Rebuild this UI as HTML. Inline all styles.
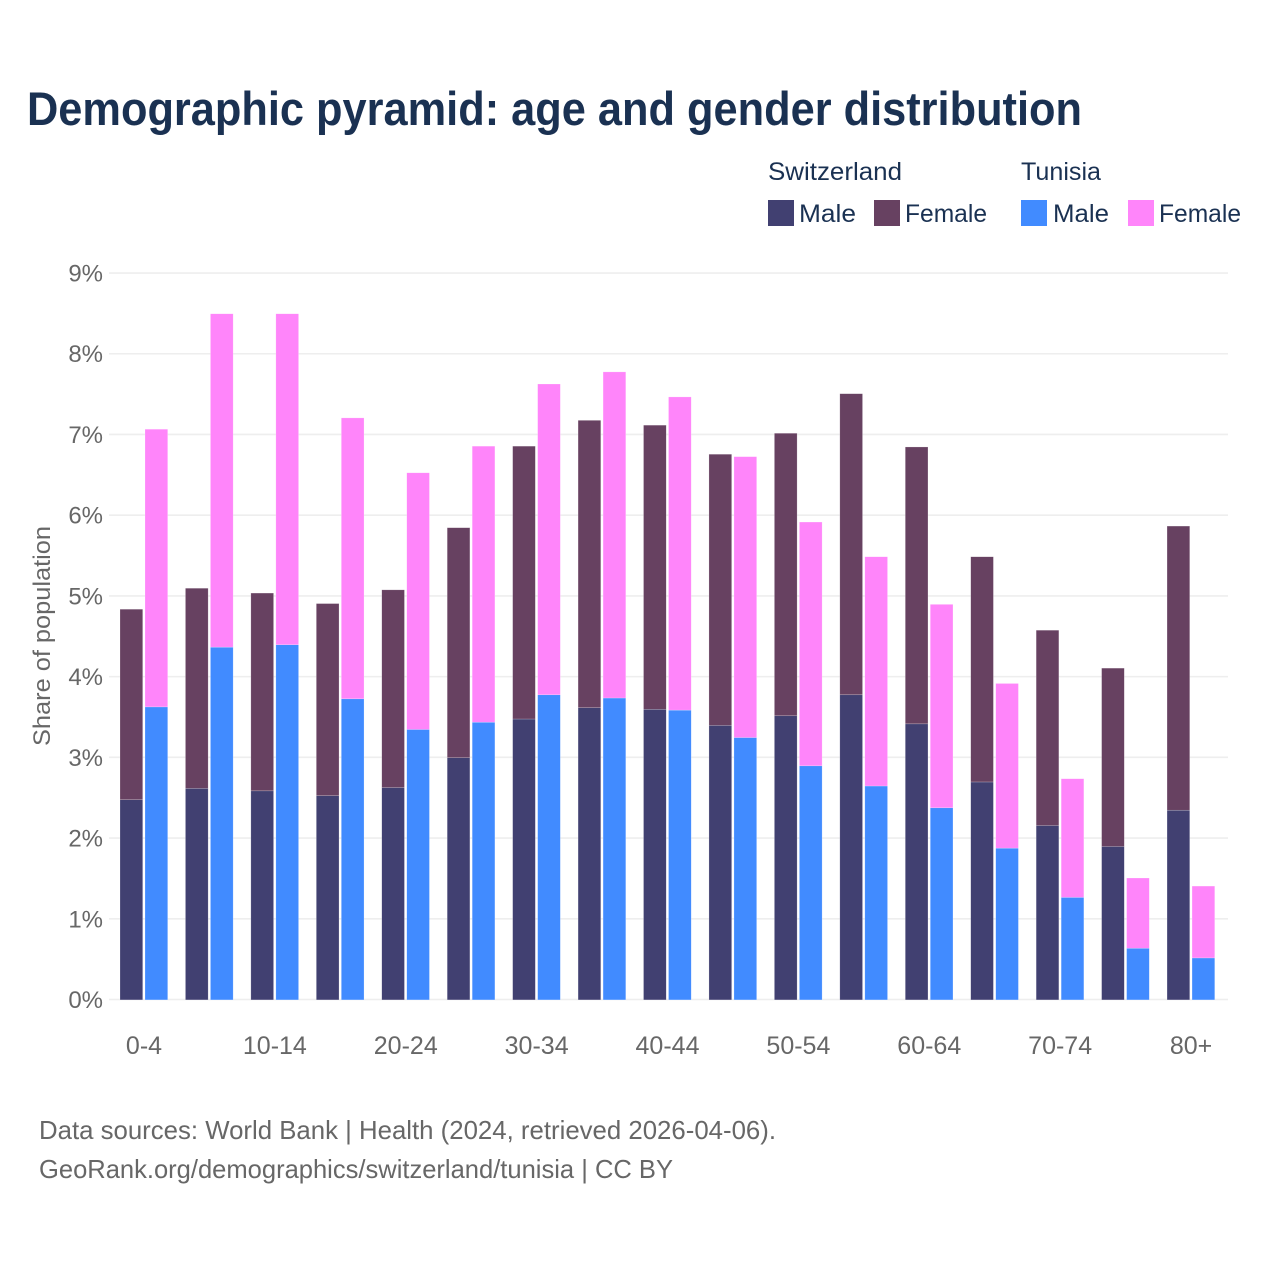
<!DOCTYPE html>
<html lang="en">
<head>
<meta charset="utf-8">
<title>Demographic pyramid: age and gender distribution</title>
<style>
html,body{margin:0;padding:0;background:#fff;width:1280px;height:1280px;overflow:hidden}
svg{display:block}
text{font-family:"Liberation Sans",sans-serif}
</style>
</head>
<body>
<svg id="chart" xmlns="http://www.w3.org/2000/svg" width="1280" height="1280" viewBox="0 0 1280 1280">
  <rect x="0" y="0" width="1280" height="1280" fill="#fff"/>
  <text x="27" y="125" font-size="47" font-weight="700" fill="#1a3152" textLength="1055" lengthAdjust="spacingAndGlyphs">Demographic pyramid: age and gender distribution</text>

  <g font-size="25" fill="#1a3152">
    <text x="768" y="180" textLength="134" lengthAdjust="spacingAndGlyphs">Switzerland</text>
    <text x="1021" y="180" textLength="80" lengthAdjust="spacingAndGlyphs">Tunisia</text>
    <rect x="768" y="200" width="26" height="26" fill="#414071"/>
    <text x="799" y="222" textLength="57" lengthAdjust="spacingAndGlyphs">Male</text>
    <rect x="874" y="200" width="26" height="26" fill="#674161"/>
    <text x="905" y="222" textLength="82" lengthAdjust="spacingAndGlyphs">Female</text>
    <rect x="1021" y="200" width="26" height="26" fill="#418bff"/>
    <text x="1053" y="222" textLength="56" lengthAdjust="spacingAndGlyphs">Male</text>
    <rect x="1128" y="200" width="26" height="26" fill="#ff85fa"/>
    <text x="1159" y="222" textLength="82" lengthAdjust="spacingAndGlyphs">Female</text>
  </g>

  <g id="grid"></g>
  <g id="bars"></g>
  <g id="yticks"></g>
  <g id="xticks"></g>

  <text transform="translate(50,636) rotate(-90)" text-anchor="middle" font-size="24" fill="#676767" textLength="220" lengthAdjust="spacingAndGlyphs">Share of population</text>

  <g font-size="26" fill="#676767">
    <text x="39" y="1139" textLength="737" lengthAdjust="spacingAndGlyphs">Data sources: World Bank | Health (2024, retrieved 2026-04-06).</text>
    <text x="39" y="1178" textLength="634" lengthAdjust="spacingAndGlyphs">GeoRank.org/demographics/switzerland/tunisia | CC BY</text>
  </g>
</svg>
<script>
const ageGroups = ["0-4","5-9","10-14","15-19","20-24","25-29","30-34","35-39","40-44","45-49","50-54","55-59","60-64","65-69","70-74","75-79","80+"];
const switzerlandMale = [2.48,2.62,2.59,2.53,2.63,3.00,3.48,3.62,3.60,3.40,3.52,3.78,3.42,2.70,2.16,1.90,2.35];
const switzerlandFemale = [2.36,2.48,2.45,2.38,2.45,2.85,3.38,3.56,3.52,3.36,3.50,3.73,3.43,2.79,2.42,2.21,3.52];
const tunisiaMale = [3.63,4.37,4.40,3.73,3.35,3.44,3.78,3.74,3.59,3.25,2.90,2.65,2.38,1.88,1.27,0.64,0.52];
const tunisiaFemale = [3.44,4.13,4.10,3.48,3.18,3.42,3.85,4.04,3.88,3.48,3.02,2.84,2.52,2.04,1.47,0.87,0.89];
const yTickValues = [0,1,2,3,4,5,6,7,8,9];

const NS = "http://www.w3.org/2000/svg";
const plot = {left:109, right:1228, firstBar:120, groupStep:65.44, barWidth:22.7, barStep:25, barInset:0.4, y0:999.5, pxPerUnit:80.72};
const yScale = function(v){ return plot.y0 - v * plot.pxPerUnit; };
const xScale = function(i, side){ return plot.firstBar + i * plot.groupStep + side * plot.barStep; };
const groupCenter = function(i){ return plot.firstBar + i * plot.groupStep + 24; };

const gridG = document.getElementById("grid");
const ytG = document.getElementById("yticks");
yTickValues.forEach(function(v){
  const line = document.createElementNS(NS, "line");
  line.setAttribute("x1", plot.left);
  line.setAttribute("x2", plot.right);
  line.setAttribute("y1", yScale(v));
  line.setAttribute("y2", yScale(v));
  line.setAttribute("stroke", "#eeeeee");
  line.setAttribute("stroke-width", "1.6");
  
  
  gridG.appendChild(line);
  const t = document.createElementNS(NS, "text");
  t.setAttribute("x", 103);
  t.setAttribute("y", yScale(v) + 8.5);
  t.setAttribute("text-anchor", "end");
  t.setAttribute("font-size", "24");
  t.setAttribute("fill", "#676767");
  
  
  t.textContent = v + "%";
  ytG.appendChild(t);
});

const barsG = document.getElementById("bars");
function addBar(i, side, base, value, color, name){
  const r = document.createElementNS(NS, "rect");
  r.setAttribute("x", xScale(i, side));
  r.setAttribute("y", yScale(base + value) + plot.barInset);
  r.setAttribute("width", plot.barWidth);
  r.setAttribute("height", value * plot.pxPerUnit);
  r.setAttribute("fill", color);
  r.setAttribute("stroke", "#ffffff");
  r.setAttribute("stroke-opacity", "0.4");
  r.setAttribute("stroke-width", "0.5");
  
  
  barsG.appendChild(r);
}
ageGroups.forEach(function(a, i){
  addBar(i, 0, 0, switzerlandMale[i], "#414071", "bar-switzerland-male");
  addBar(i, 0, switzerlandMale[i], switzerlandFemale[i], "#674161", "bar-switzerland-female");
  addBar(i, 1, 0, tunisiaMale[i], "#418bff", "bar-tunisia-male");
  addBar(i, 1, tunisiaMale[i], tunisiaFemale[i], "#ff85fa", "bar-tunisia-female");
});

const xtG = document.getElementById("xticks");
ageGroups.forEach(function(a, i){
  if (i % 2 !== 0) return;
  const t = document.createElementNS(NS, "text");
  t.setAttribute("x", groupCenter(i));
  t.setAttribute("y", 1054);
  t.setAttribute("text-anchor", "middle");
  t.setAttribute("font-size", "25");
  t.setAttribute("fill", "#676767");
  
  
  t.textContent = a;
  xtG.appendChild(t);
});
</script>
</body>
</html>
